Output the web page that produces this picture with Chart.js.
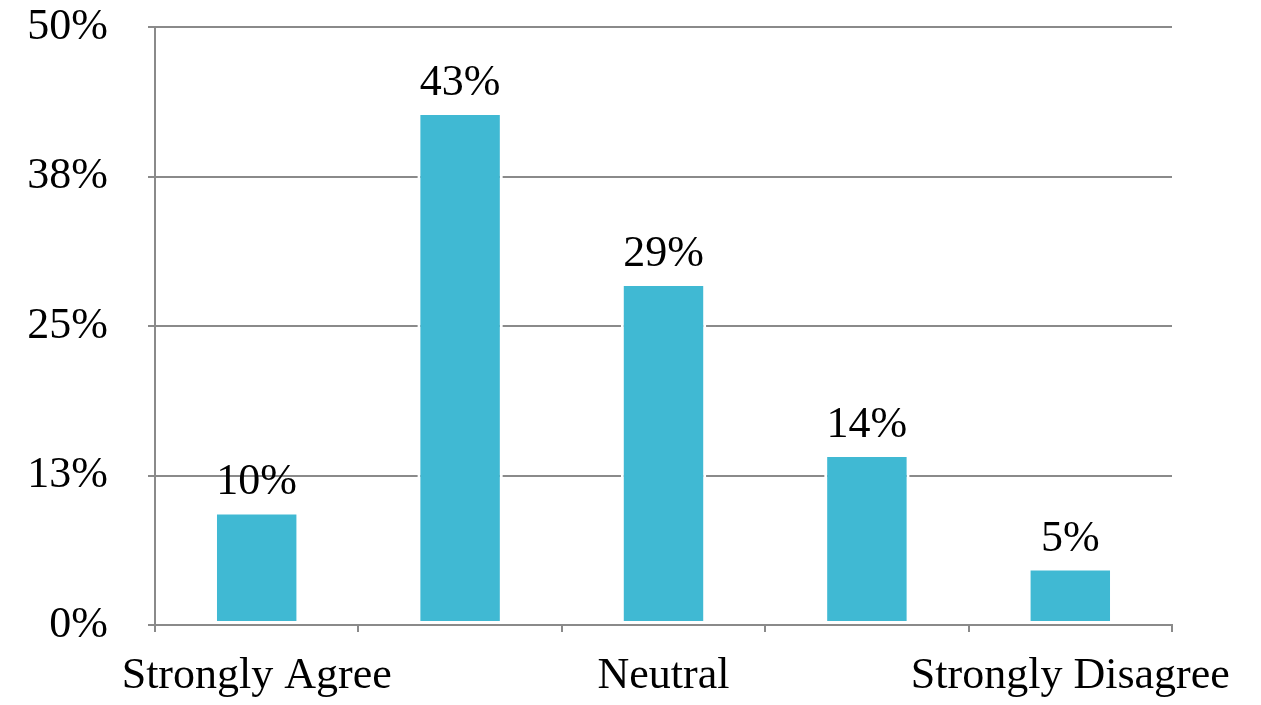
<!DOCTYPE html>
<html>
<head>
<meta charset="utf-8">
<script src="https://cdn.jsdelivr.net/npm/chart.js@4"></script>
<style>
  html, body { margin: 0; padding: 0; background: #fff; }
  #wrap { width: 1261px; height: 705px; }
</style>
</head>
<body>
<div id="wrap"><canvas id="chart" width="1261" height="705"></canvas></div>
<script>
/* Survey answers — share of responses per option */

const categories = ['Strongly Agree', 'Agree', 'Neutral', 'Disagree', 'Strongly Disagree'];
const shares     = [9.5, 42.9, 28.6, 14.3, 4.8];
const yTicks     = [0, 12.5, 25, 37.5, 50];

const FONT      = 'Liberation Serif, Times New Roman, serif';
const GRID_GRAY = '#8a8a8a';
const BAR_BLUE  = '#40b9d3';

// value labels above each bar, rounded like the source
const barLabels = {
  id: 'barLabels',
  afterDatasetsDraw(chart) {
    const ctx  = chart.ctx;
    const meta = chart.getDatasetMeta(0);
    ctx.save();
    ctx.font         = `44px ${FONT}`;
    ctx.fillStyle    = '#000';
    ctx.textAlign    = 'center';
    ctx.textBaseline = 'alphabetic';
    meta.data.forEach((bar, i) => {
      ctx.fillText(Math.round(shares[i]) + '%', bar.x, bar.y - 17);
    });
    ctx.restore();
  }
};

// keep label overflow from pushing the plot area around
const noPad = axis => {
  axis.paddingLeft = axis.paddingRight = axis.paddingTop = axis.paddingBottom = 0;
};

new Chart(document.getElementById('chart'), {
  type: 'bar',
  data: {
    labels: categories,
    datasets: [{
      data:               shares,
      backgroundColor:    BAR_BLUE,
      borderColor:        '#ffffff',
      borderWidth:        3,
      borderSkipped:      false,
      barPercentage:      0.42,
      categoryPercentage: 1
    }]
  },
  options: {
    responsive:  false,
    animation:   false,
    devicePixelRatio: 1,
    layout: { padding: { left: 0, right: 89, top: 27, bottom: 0 } },
    plugins: {
      legend:  { display: false },
      tooltip: { enabled: false }
    },
    scales: {
      x: {
        offset: true,
        afterFit: axis => { noPad(axis); axis.height = 80; },
        grid:   { offset: true, drawOnChartArea: false, drawTicks: true, tickLength: 7, color: GRID_GRAY, lineWidth: 2 },
        border: { display: true, color: GRID_GRAY, width: 2 },
        ticks:  {
          autoSkip: false, maxRotation: 0, padding: 18,
          color: '#000', font: { family: FONT, size: 44 },
          callback: (val, i) => (i % 2 === 0 ? categories[i] : '')
        }
      },
      y: {
        min: 0, max: 50,
        afterBuildTicks: axis => { axis.ticks = yTicks.map(v => ({ value: v })); },
        afterFit: axis => { noPad(axis); axis.width = 155; },
        grid:   { color: GRID_GRAY, lineWidth: 2, tickLength: 7 },
        border: { display: true, color: GRID_GRAY, width: 2 },
        ticks:  {
          padding: 40,
          color: '#000', font: { family: FONT, size: 44 },
          callback: val => Math.round(val) + '%'
        }
      }
    }
  },
  plugins: [barLabels]
});
</script>
</body>
</html>
